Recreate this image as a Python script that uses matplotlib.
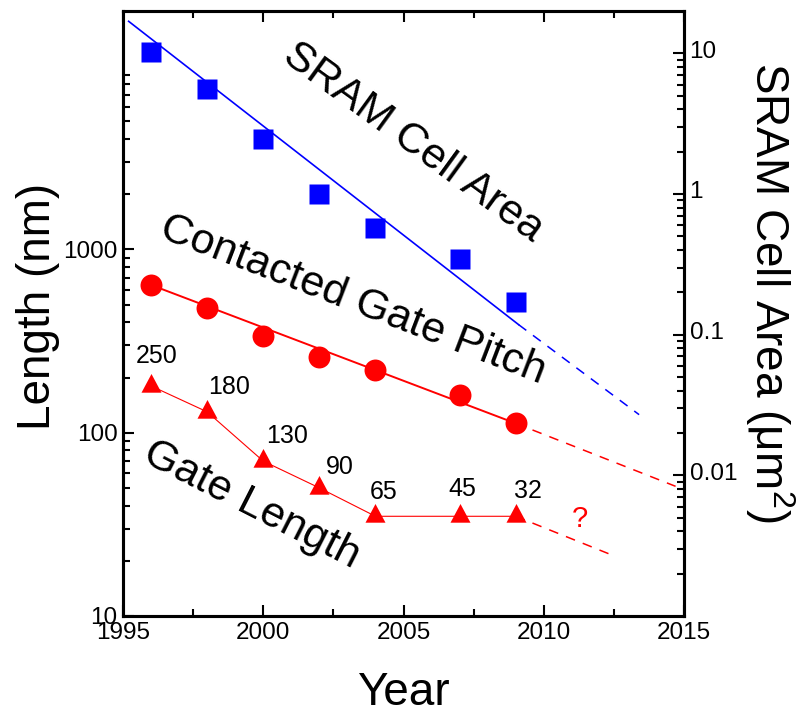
import matplotlib
matplotlib.use('Agg')
import matplotlib.pyplot as plt
import matplotlib.transforms as mtransforms
from matplotlib.ticker import FixedLocator, NullFormatter

plt.rcParams['font.family'] = ['Liberation Sans', 'DejaVu Sans']
plt.rcParams['mathtext.fontset'] = 'custom'
plt.rcParams['mathtext.rm'] = 'Liberation Sans'
plt.rcParams['mathtext.it'] = 'Liberation Sans:italic'
plt.rcParams['lines.scale_dashes'] = False

# ---- data -------------------------------------------------------------
years = [1996, 1998, 2000, 2002, 2004, 2007, 2009]
nodes = ['250', '180', '130', '90', '65', '45', '32']
sram_area = [10.26, 5.6, 2.45, 1.0, 0.57, 0.346, 0.171]     # um^2
gate_pitch = [640, 480, 336, 260, 220, 160, 112.5]         # nm
gate_length = [180, 130, 70, 50, 35, 35, 35]               # nm

# trend lines: solid fit, dashed projection
sram_fit_x, sram_fit_y = [1995.2, 2009.1], [16.9, 0.118]
sram_proj_x, sram_proj_y = [2009.1, 2013.4], [0.118, 0.027]
pitch_fit_x, pitch_fit_y = [1996, 2009], [640, 112.5]
pitch_proj_x, pitch_proj_y = [2009, 2014.7], [112.5, 51]
length_proj_x, length_proj_y = [2009, 2012.5], [35, 21.3]

# node label offsets (points) from each triangle
node_offsets = [(4.3, 21.4), (16.1, 18.1), (17.3, 17.8), (14.9, 14.8),
                (6.0, 17.2), (1.9, 19.6), (8.9, 18.4)]

blue = '#0000ff'
red = '#ff0000'

# triangle centred on its centroid
tri = [(0, 12.5), (-10, -6.2), (10, -6.2), (0, 12.5)]

fig = plt.figure(figsize=(7.96, 7.19), dpi=100)
ax = fig.add_axes([123 / 796, 1 - 616 / 719, 561 / 796, 605 / 719])
ax2 = ax.twinx()

# ---- left axis: lengths ----------------------------------------------
ax.plot(pitch_fit_x, pitch_fit_y, color=red, lw=1.4, zorder=2)
ax.plot(pitch_proj_x, pitch_proj_y, color=red, lw=1.1, dashes=(7, 6), zorder=2)
ax.plot(years, gate_pitch, 'o', color=red, ms=15.8, mec='none', zorder=3)

ax.plot(years, gate_length, color=red, lw=0.8, zorder=2)
ax.plot(length_proj_x, length_proj_y, color=red, lw=1.1, dashes=(7, 6), zorder=2)
ax.plot(years, gate_length, marker=tri, ls='none', color=red, ms=18,
        mec='none', zorder=3)

for yr, val, lab, off in zip(years, gate_length, nodes, node_offsets):
    ax.annotate(lab, (yr, val), xytext=off, textcoords='offset points',
                ha='center', va='center', fontsize=18)

ax.text(2011.3, 34, '?', color=red, fontsize=21, ha='center', va='center')

ax.set_yscale('log')
ax.set_xlim(1995, 2015)
ax.set_ylim(10, 20000)
ax.xaxis.set_major_locator(FixedLocator([1995, 2000, 2005, 2010, 2015]))
ax.xaxis.set_minor_locator(FixedLocator([1997.5, 2002.5, 2007.5, 2012.5]))
ax.yaxis.set_major_locator(FixedLocator([10, 100, 1000]))
ax.yaxis.set_minor_locator(FixedLocator(
    [m * d for d in (10, 100, 1000) for m in range(2, 10)]))
ax.yaxis.set_major_formatter(plt.FuncFormatter(lambda v, p: f'{v:g}'))
ax.yaxis.set_minor_formatter(NullFormatter())
ax.tick_params(which='both', direction='in', top=True, right=False,
               width=1.5, labelsize=17.5, pad=4)
ax.tick_params(which='major', length=8)
ax.tick_params(which='minor', length=5)

# ---- right axis: SRAM cell area --------------------------------------
ax2.plot(sram_fit_x, sram_fit_y, color=blue, lw=1.2, zorder=2)
ax2.plot(sram_proj_x, sram_proj_y, color=blue, lw=1.1, dashes=(7, 6), zorder=2)
ax2.plot(years, sram_area, 's', color=blue, ms=14.4, mec='none', zorder=3)

ax2.set_yscale('log')
ax2.set_ylim(0.001, 20)
ax2.yaxis.set_major_locator(FixedLocator([0.01, 0.1, 1, 10]))
ax2.yaxis.set_minor_locator(FixedLocator(
    [m * d for d in (0.001, 0.01, 0.1, 1) for m in range(2, 10)]))
ax2.yaxis.set_major_formatter(plt.FuncFormatter(lambda v, p: f'{v:g}'))
ax2.yaxis.set_minor_formatter(NullFormatter())
ax2.tick_params(which='both', direction='in', width=1.5, labelsize=17.5, pad=4)
ax2.tick_params(which='major', length=8)
ax2.tick_params(which='minor', length=5)

# right-hand labels sit a little above their ticks
lift = mtransforms.ScaledTranslation(0, 3 / 72, fig.dpi_scale_trans)
for t in ax2.yaxis.get_major_ticks():
    t.label2.set_transform(t.label2.get_transform() + lift)

for a in (ax, ax2):
    for s in a.spines.values():
        s.set_linewidth(2.2)

# ---- curve names -----------------------------------------------------
ax.text(0.517, 0.782, 'SRAM Cell Area', transform=ax.transAxes, fontsize=31,
        rotation=-36, rotation_mode='anchor', ha='center', va='center')
ax.text(0.410, 0.522, 'Contacted Gate Pitch', transform=ax.transAxes,
        fontsize=31, rotation=-21, rotation_mode='anchor',
        ha='center', va='center')
ax.text(0.229, 0.183, 'Gate Length', transform=ax.transAxes, fontsize=31,
        rotation=-27, rotation_mode='anchor', ha='center', va='center')

# ---- axis titles -----------------------------------------------------
fig.text(38 / 796, 1 - 306 / 719, 'Length (nm)', fontsize=33, rotation=90,
         ha='center', va='center')
fig.text(403.5 / 796, 1 - 693 / 719, 'Year', fontsize=33,
         ha='center', va='center')
fig.text(770 / 796, 1 - 292 / 719, r'SRAM Cell Area ($\mathregular{\mu}$m$^2$)',
         fontsize=33, rotation=-90, ha='center', va='center')

fig.savefig('out.png', dpi=100)
